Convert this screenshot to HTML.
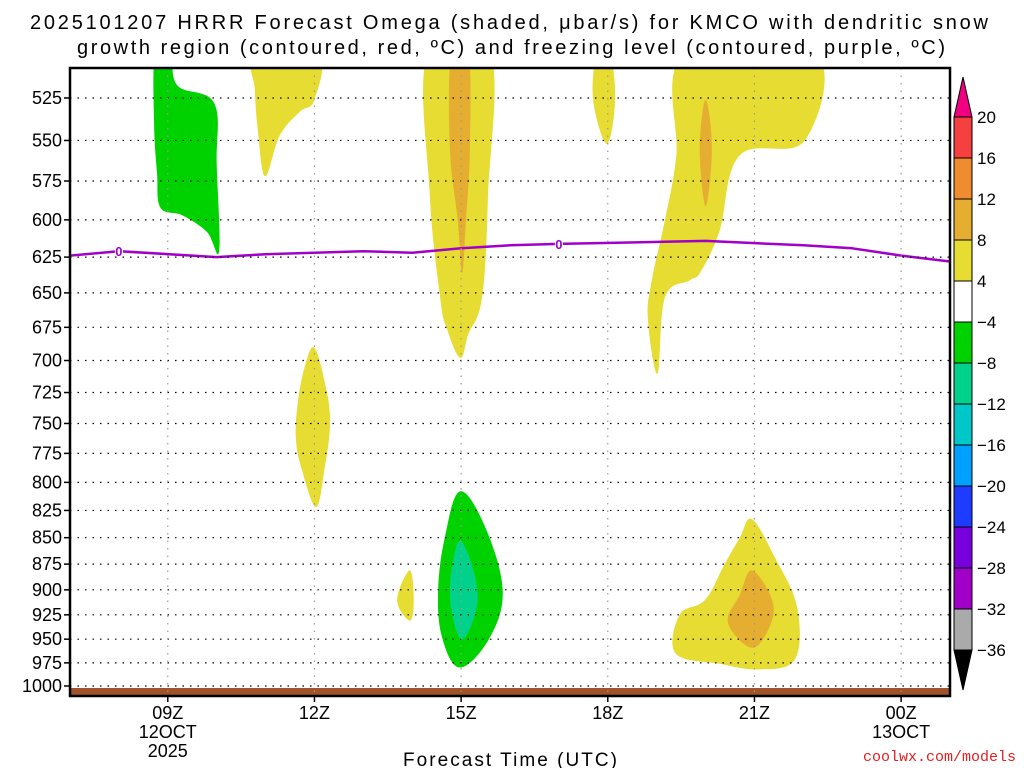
<!DOCTYPE html>
<html><head><meta charset="utf-8"><style>
body{margin:0;background:#fff;}
svg{display:block;font-family:"Liberation Sans","DejaVu Sans",sans-serif;}
</style></head><body>
<svg id="chart" width="1024" height="768" xmlns="http://www.w3.org/2000/svg">
<text x="30" y="29" font-size="20" textLength="958" lengthAdjust="spacing" fill="#000">2025101207 HRRR Forecast Omega (shaded, μbar/s) for KMCO with dendritic snow</text>
<text x="77" y="54" font-size="20" textLength="868" lengthAdjust="spacing" fill="#000">growth region (contoured, red, ºC) and freezing level (contoured, purple, ºC)</text>
<text x="403" y="766" font-size="19" textLength="214" lengthAdjust="spacing" fill="#000">Forecast Time (UTC)</text>
<text x="1016" y="761" font-size="15" text-anchor="end" fill="#e02020" font-family="Liberation Mono, monospace">coolwx.com/models</text>
<g id="plot"></g>
<g id="cbar"></g>
</svg>
<script>
const pressureTicks=[525,550,575,600,625,650,675,700,725,750,775,800,825,850,875,900,925,950,975,1000];
const hourTicks=[2,5,8,11,14,17];
const hourLabels=[["09Z","12OCT","2025"],["12Z"],["15Z"],["18Z"],["21Z"],["00Z","13OCT"]];
const freezingHours=[0,1,3,4,6,7,8,9,10,13,15,16,17,18];
const freezingP=[624,621,625,623,621,622,619,617,616,614,617,619,624,628];
const freezingLabelHours=[1,10];
const cbarLevels=["20","16","12","8","4","−4","−8","−12","−16","−20","−24","−28","−32","−36"];
const cbarColors=["#f54040","#f08c30","#e6ae30","#e6dc32","#ffffff","#00d200","#00d28c","#00c8c8","#00a0ff","#1e3cff","#7800dc","#a000c8","#aaaaaa"];
const shapes=[
 {c:"#00d200",pts:[[1.74,500],[2.05,500],[2.2,518],[2.95,528],[3.0,565],[3.05,621],[2.8,608],[2.3,597],[1.85,592],[1.78,570],[1.72,540]]},
 {c:"#e6dc32",pts:[[3.78,500],[5.07,500],[5.0,526],[4.7,533],[4.29,547],[3.99,572],[3.84,543],[3.78,520]]},
 {c:"#e6dc32",pts:[[4.99,690],[5.2,715],[5.32,748],[5.2,790],[5.03,822],[4.75,790],[4.62,763],[4.66,733],[4.8,705]]},
 {c:"#e6dc32",pts:[[7.32,500],[8.59,500],[8.55,584],[8.43,653],[8.15,680],[7.98,698],[7.7,675],[7.57,653],[7.36,584]]},
 {c:"#e6ae30",pts:[[7.8,500],[8.15,500],[8.18,555],[8.1,600],[8.02,636],[7.93,600],[7.77,555]]},
 {c:"#e6dc32",pts:[[10.78,500],[11.04,500],[11.15,526],[10.98,552],[10.7,526]]},
 {c:"#e6dc32",pts:[[12.58,500],[15.23,500],[15.03,550],[13.7,559],[13.29,607],[12.9,635],[12.68,641],[12.17,653],[12.02,710],[11.82,669],[11.9,641],[12.17,600],[12.4,560]]},
 {c:"#e6ae30",pts:[[13.0,526],[13.13,555],[13.0,591],[12.88,555]]},
 {c:"#e6dc32",pts:[[6.95,881],[7.03,910],[6.95,931],[6.69,910]]},
 {c:"#00d200",pts:[[7.98,808],[8.49,840],[8.85,900],[8.59,948],[7.98,980],[7.61,948],[7.53,900],[7.67,849]]},
 {c:"#00d28c",pts:[[7.98,853],[8.34,905],[8.02,950],[7.77,905]]},
 {c:"#e6dc32",pts:[[13.95,833],[14.42,869],[14.87,917],[14.83,971],[14.11,982],[13.29,976],[12.39,965],[12.47,925],[12.99,910],[13.39,875],[13.7,850]]},
 {c:"#e6ae30",pts:[[13.95,881],[14.36,910],[14.32,936],[13.95,959],[13.46,933],[13.7,905]]}
];
const NS="http://www.w3.org/2000/svg";
const L=70,R=950,T=68,B=696;
function xs(h){return L+h*(R-L)/18;}
function ys(p){return 98+Math.log(p/525)*912.5;}
function mk(tag,attrs,parent){const e=document.createElementNS(NS,tag);for(const k in attrs)e.setAttribute(k,attrs[k]);parent.appendChild(e);return e;}
function smoothPath(P){
 const n=P.length;let d="M"+P[0][0].toFixed(1)+","+P[0][1].toFixed(1);
 const k=0.18;
 for(let i=0;i<n;i++){
  const p0=P[(i-1+n)%n],p1=P[i],p2=P[(i+1)%n],p3=P[(i+2)%n];
  const c1=[p1[0]+(p2[0]-p0[0])*k,p1[1]+(p2[1]-p0[1])*k];
  const c2=[p2[0]-(p3[0]-p1[0])*k,p2[1]-(p3[1]-p1[1])*k];
  d+=" C"+c1[0].toFixed(1)+","+c1[1].toFixed(1)+" "+c2[0].toFixed(1)+","+c2[1].toFixed(1)+" "+p2[0].toFixed(1)+","+p2[1].toFixed(1);
 }
 return d+"Z";
}
const plot=document.getElementById('plot');
const clip=mk('clipPath',{id:'pc'},plot);mk('rect',{x:L,y:T,width:R-L,height:B-T},clip);
const sg=mk('g',{'clip-path':'url(#pc)'},plot);
shapes.forEach((s,i)=>{
 const pg=mk('path',{d:smoothPath(s.pts.map(q=>[xs(q[0]),ys(q[1])])),fill:s.c},sg);
 
 
});
const sf=mk('rect',{x:L,y:688,width:R-L,height:B-688,fill:"#a0522d"},sg);


pressureTicks.forEach(p=>{
 const y=ys(p);
 const g=mk('line',{x1:L,x2:R,y1:y,y2:y,stroke:"#000","stroke-width":1.2,"stroke-dasharray":"1.5 6"},plot);
 
 
 mk('line',{x1:L-6,x2:L,y1:y,y2:y,stroke:"#000","stroke-width":1.5},plot);
 const t=mk('text',{x:L-8,y:y+6,"font-size":18,"text-anchor":"end",fill:"#000"},plot);
 t.textContent=p;
 
 
});
hourTicks.forEach((h,i)=>{
 const x=xs(h);
 const g=mk('line',{x1:x,x2:x,y1:T,y2:B,stroke:"#999","stroke-width":1.2,"stroke-dasharray":"1.5 6"},plot);
 
 
 mk('line',{x1:x,x2:x,y1:B,y2:B+6,stroke:"#000","stroke-width":1.5},plot);
 hourLabels[i].forEach((s,j)=>{
  const t=mk('text',{x:x,y:B+23+j*19,"font-size":18,"text-anchor":"middle",fill:"#000"},plot);
  t.textContent=s;
  
  
 });
});
const fl=mk('polyline',{points:freezingHours.map((h,i)=>xs(h)+","+ys(freezingP[i]).toFixed(1)).join(" "),fill:"none",stroke:"#a000c8","stroke-width":2.5,"stroke-linejoin":"round"},sg);


freezingLabelHours.forEach(h=>{
 let i=freezingHours.findIndex(v=>v>=h);const y=ys(freezingP[i]);
 mk('rect',{x:xs(h)-4,y:y-6,width:8,height:12,fill:"#fff"},sg);
 const t=mk('text',{x:xs(h),y:y+5,"font-size":13,"text-anchor":"middle",fill:"#a000c8","font-weight":"bold"},sg);
 t.textContent="0";
 
 
});
mk('rect',{x:L,y:T,width:R-L,height:B-T,fill:"none",stroke:"#000","stroke-width":2.5},plot);
const cb=document.getElementById('cbar');
const cx=954,cw=18,ct=117,step=41.0;
mk('polygon',{points:`${cx},${ct} ${cx+cw},${ct} ${cx+cw/2},77`,fill:"#f00080",stroke:"#000","stroke-width":1},cb);
cbarColors.forEach((c,i)=>{
 const r=mk('rect',{x:cx,y:ct+i*step,width:cw,height:step,fill:c,stroke:"#000","stroke-width":1},cb);
 
 
});
const cbB=ct+cbarColors.length*step;
mk('polygon',{points:`${cx},${cbB} ${cx+cw},${cbB} ${cx+cw/2},690`,fill:"#000",stroke:"#000","stroke-width":1},cb);
cbarLevels.forEach((s,i)=>{
 const t=mk('text',{x:cx+23,y:ct+i*step+6,"font-size":17,fill:"#000"},cb);
 t.textContent=s;
 
 
});
</script>
</body></html>
